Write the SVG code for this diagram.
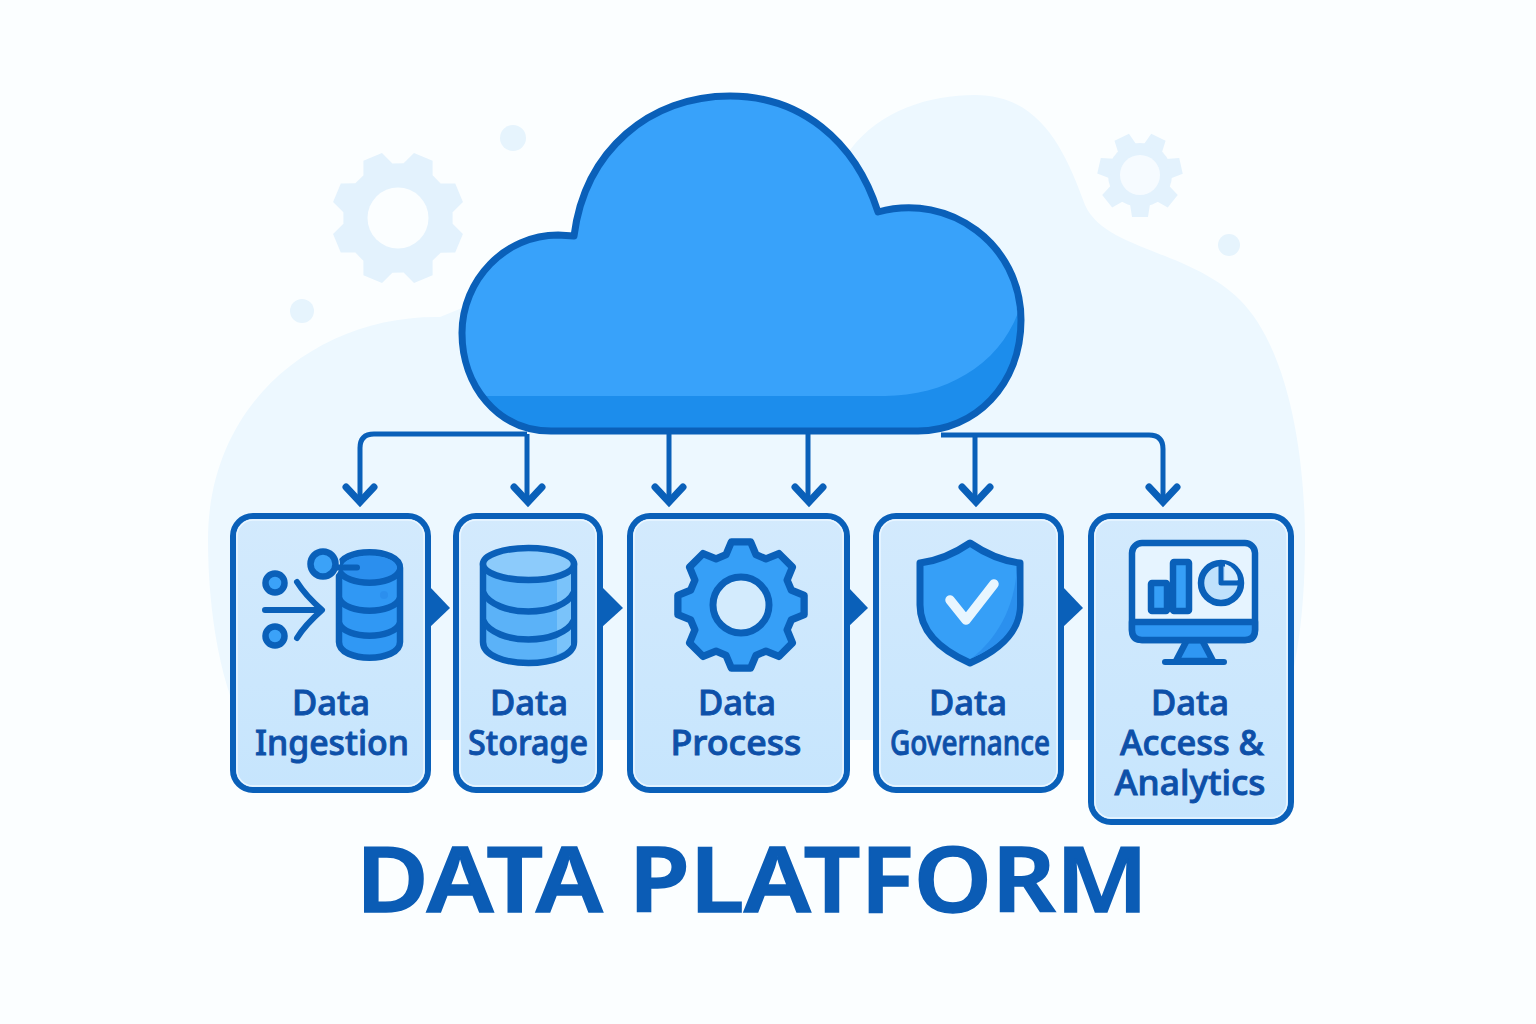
<svg xmlns="http://www.w3.org/2000/svg" width="1536" height="1024" viewBox="0 0 1536 1024">
<style>
.box{fill:url(#boxg);stroke:#0a60b9;stroke-width:6}
.halo{fill:none;stroke:#eaf6ff;stroke-width:1.5}
.lbl{font-family:"Noto Sans","Open Sans","Liberation Sans",sans-serif;font-weight:500;font-size:35px;fill:#0d50a9;text-anchor:middle;stroke:#0d50a9;stroke-width:.9px}
.title{font-family:"Noto Sans","Open Sans","Liberation Sans",sans-serif;font-weight:600;font-size:90px;fill:#0b5cb5;text-anchor:middle;stroke:#0b5cb5;stroke-width:1.5px}
.ln{fill:none;stroke:#0a60b9;stroke-linecap:round;stroke-linejoin:round}
.conn{fill:none;stroke:#0a60b9;stroke-width:5;stroke-linejoin:round}
.head{fill:none;stroke:#0a60b9;stroke-width:7;stroke-linecap:round;stroke-linejoin:miter}
.tri{fill:#0a60b9}
.d{stroke:#0a60b9;stroke-width:6.500;stroke-linejoin:round}
.bgg{fill:#e3f2fd}
.dot{fill:#e6f4fd}
</style>
<defs>
<linearGradient id="boxg" x1="0" y1="0" x2="0" y2="1"><stop offset="0" stop-color="#d3eafd"/><stop offset="1" stop-color="#c6e5fd"/></linearGradient>
<path id="gear" d="M-14-47L-9-59L9-59L14-47L23.3-43.1L35.4-48.1L48.1-35.4L43.1-23.3L47-14L59-9L59 9L47 14L43.1 23.3L48.1 35.4L35.4 48.1L23.3 43.1L14 47L9 59L-9 59L-14 47L-23.3 43.1L-35.4 48.1L-48.1 35.4L-43.1 23.3L-47 14L-59 9L-59-9L-47-14L-43.1-23.3L-48.1-35.4L-35.4-48.1L-23.3-43.1Z"/>
<path id="tooth" d="M-10-29L-8-42H8L10-29Z"/>
<path id="cloudp" d="M551 431C497 431 462 385 462 333C462 280 505 235 558 235L574 236C585 150 650 96 730 96C800 96 855 140 878 212C950 192 1021 245 1021 320C1021 385 975 431 918 431Z"/>
<clipPath id="cloudclip"><use href="#cloudp"/></clipPath>
</defs>
<rect width="1536" height="1024" fill="#fbfeff"/>
<g id="background">
<path fill="#edf8ff" d="M250 740C220 690 208 610 208 540C208 400 320 315 440 317L850 150C880 110 930 95 975 95C1040 95 1065 150 1085 205C1105 250 1190 250 1240 300C1290 350 1305 460 1305 540C1305 620 1295 690 1270 740Z"/>
<use href="#gear" class="bgg" transform="translate(398 218) rotate(22.5) scale(1.12)"/>
<circle cx="398" cy="218" r="30.500" fill="#fbfeff"/>
<circle class="bgg" cx="1140" cy="175" r="32"/>
<use href="#tooth" class="bgg" transform="translate(1140 175) rotate(26)"/>
<use href="#tooth" class="bgg" transform="translate(1140 175) rotate(77.4)"/>
<use href="#tooth" class="bgg" transform="translate(1140 175) rotate(128.8)"/>
<use href="#tooth" class="bgg" transform="translate(1140 175) rotate(180)"/>
<use href="#tooth" class="bgg" transform="translate(1140 175) rotate(231.4)"/>
<use href="#tooth" class="bgg" transform="translate(1140 175) rotate(282.8)"/>
<use href="#tooth" class="bgg" transform="translate(1140 175) rotate(334.2)"/>
<circle cx="1140" cy="175" r="20" fill="#f6fbff"/>
<circle class="dot" cx="513" cy="138" r="13"/>
<circle class="dot" cx="302" cy="311" r="12"/>
<circle class="dot" cx="1229" cy="245" r="11"/>
</g>
<g id="connectors">
<path class="conn" d="M527 434H374Q360 434 360 448V502"/>
<path class="conn" d="M527 434V502"/>
<path class="conn" d="M669 430V502"/>
<path class="conn" d="M808 430V502"/>
<path class="conn" d="M941 435H1149Q1163 435 1163 449V502"/>
<path class="conn" d="M975 435V502"/>
<path class="head" d="M346 487L360 502L374 487"/>
<path class="head" d="M514 487L528 502L542 487"/>
<path class="head" d="M655 487L669 502L683 487"/>
<path class="head" d="M795 487L809 502L823 487"/>
<path class="head" d="M962 487L976 502L990 487"/>
<path class="head" d="M1149 487L1163 502L1177 487"/>
<path class="tri" d="M430 587L450 608L430 627Z"/>
<path class="tri" d="M602 587L623 608L602 627Z"/>
<path class="tri" d="M848 587L868 608L848 627Z"/>
<path class="tri" d="M1063 587L1083 608L1063 627Z"/>
</g>
<g id="cloud">
<use href="#cloudp" fill="#38a2fa"/>
<path clip-path="url(#cloudclip)" fill="#1c8dec" d="M470 396H885C945 396 1000 365 1019 310V440H470Z"/>
<use href="#cloudp" fill="none" stroke="#0a60b9" stroke-width="7" stroke-linejoin="round"/>
</g>
<g id="node-ingestion">
<rect class="box" x="233" y="516" width="195" height="274" rx="20"/>
<rect class="halo" x="237" y="520" width="187" height="266" rx="16"/>
<circle class="d" cx="275" cy="583" r="9.500" fill="#3ba2f8"/>
<circle class="d" cx="275" cy="636" r="9.500" fill="#3ba2f8"/>
<path class="ln" style="stroke-width:6" d="M265 610H320M297 582Q305 595 322 610Q305 625 297 638"/>
<path class="d" fill="#3098f4" d="M339 568V642C339 663 400 663 400 642V568C400 547 339 547 339 568Z"/>
<path fill="#2b8fee" d="M342 568C342 552 397 552 397 568C397 588 342 588 342 568Z"/>
<path fill="none" class="d" d="M339 570C345 587 394 587 400 570M339 598C345 615 394 615 400 598M339 623C345 640 394 640 400 623"/>
<circle cx="323" cy="564" r="17" fill="#cfe8fd"/>
<circle class="d" cx="323" cy="564" r="12.500" fill="#3ba2f8"/>
<path class="ln" style="stroke-width:6" d="M336 567.500H357"/>
<circle cx="384" cy="595" r="4" fill="#2b8fee"/>
<text class="lbl" x="331" y="715" textLength="78" lengthAdjust="spacingAndGlyphs">Data</text>
<text class="lbl" x="332" y="755" textLength="154" lengthAdjust="spacingAndGlyphs">Ingestion</text>
</g>
<g id="node-storage">
<rect class="box" x="456" y="516" width="144" height="274" rx="20"/>
<rect class="halo" x="460" y="520" width="136" height="266" rx="16"/>
<path class="d" fill="#5bb2f8" d="M483 564V642C483 670 574 670 574 642V564Z"/>
<path fill="#7ac3fa" d="M557 570H571V645Q566 652 557 654Z"/>
<path fill="none" class="d" d="M483 592C495 618 562 618 574 592M483 620C495 646 562 646 574 620"/>
<ellipse class="d" cx="528.500" cy="564" rx="45.500" ry="16" fill="#8ccbfb"/>
<text class="lbl" x="529" y="715" textLength="78" lengthAdjust="spacingAndGlyphs">Data</text>
<text class="lbl" x="528" y="755" textLength="120" lengthAdjust="spacingAndGlyphs">Storage</text>
</g>
<g id="node-process">
<rect class="box" x="630" y="516" width="217" height="274" rx="20"/>
<rect class="halo" x="634" y="520" width="209" height="266" rx="16"/>
<use href="#gear" transform="translate(741 605) scale(1.07)" fill="#369ff7" stroke="#0a60b9" stroke-width="6.800" stroke-linejoin="round"/>
<circle cx="741" cy="605" r="28" fill="#d3ebfd" stroke="#0a60b9" stroke-width="7"/>
<text class="lbl" x="737" y="715" textLength="78" lengthAdjust="spacingAndGlyphs">Data</text>
<text class="lbl" x="736" y="755" textLength="131" lengthAdjust="spacingAndGlyphs">Process</text>
</g>
<g id="node-governance">
<rect class="box" x="876" y="516" width="185" height="274" rx="20"/>
<rect class="halo" x="880" y="520" width="177" height="266" rx="16"/>
<path fill="#369ff7" stroke="#0a60b9" stroke-width="7" stroke-linejoin="round" d="M970 543Q945 560 920 563V605C920 635 945 652 970 663C995 652 1020 635 1020 605V563Q995 560 970 543Z"/>
<path fill="#2b90ee" d="M1017 566V605C1017 632 995 648 972 658C995 640 1015 610 1017 566Z"/>
<path fill="none" stroke="#e8f6ff" stroke-width="9.500" stroke-linecap="round" stroke-linejoin="round" d="M950 600L966 620L994 584"/>
<text class="lbl" x="968" y="715" textLength="78" lengthAdjust="spacingAndGlyphs">Data</text>
<text class="lbl" x="970" y="755" textLength="160" lengthAdjust="spacingAndGlyphs">Governance</text>
</g>
<g id="node-analytics">
<rect class="box" x="1091" y="516" width="200" height="306" rx="20"/>
<rect class="halo" x="1095" y="520" width="192" height="298" rx="16"/>
<path class="d" fill="#2f97f3" d="M1187 640H1202L1213 661H1176Z"/>
<path class="ln" style="stroke-width:6" d="M1165 662H1224"/>
<rect class="d" x="1132" y="543" width="123" height="97" rx="10" fill="#e6f4ff"/>
<path class="d" fill="#2f97f3" d="M1132 622H1255V630Q1255 640 1245 640H1142Q1132 640 1132 630Z"/>
<rect class="d" x="1151" y="583" width="16" height="28" fill="#369ff7" rx="1"/>
<rect class="d" x="1173" y="562" width="16" height="49" fill="#369ff7" rx="1"/>
<circle class="d" cx="1221" cy="583" r="20" fill="#bfe1fc"/>
<path fill="#d8eefe" d="M1225 564A18 18 0 0 1 1238 580H1225Z"/>
<path class="ln" style="stroke-width:5" d="M1221 564V583H1240"/>
<text class="lbl" x="1190" y="715" textLength="78" lengthAdjust="spacingAndGlyphs">Data</text>
<text class="lbl" x="1192" y="755" textLength="144" lengthAdjust="spacingAndGlyphs">Access &amp;</text>
<text class="lbl" x="1190" y="795" textLength="151" lengthAdjust="spacingAndGlyphs">Analytics</text>
</g>
<g id="title">
<text class="title" x="752" y="912" textLength="792" lengthAdjust="spacingAndGlyphs">DATA PLATFORM</text>
</g>
</svg>
